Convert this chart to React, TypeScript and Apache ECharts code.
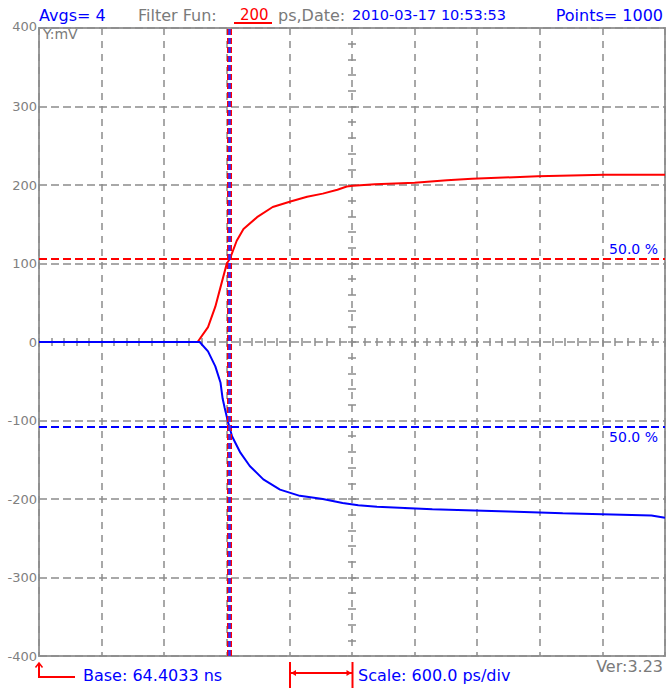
import { useEffect, useRef } from "react";
import * as echarts from "echarts";

// time in ps relative to screen centre (600 ps/div, 10 divisions)
const timeRed = [-3000, -1480, -1380, -1310, -1250, -1200, -1170, -1105, -1040, -910, -760, -590, -430, -280, -140, -50, 10, 220, 600, 910, 1150, 1780, 2420, 3000];
const mvRed = [0, 0, 19, 45, 75, 100, 106, 129, 144, 159, 172, 179, 185, 189, 194, 198, 199, 201, 203, 206, 208, 211, 213, 213];
const timeBlue = [-3000, -1460, -1380, -1310, -1260, -1240, -1220, -1190, -1150, -1070, -980, -850, -690, -500, -280, -90, 60, 240, 770, 1500, 2020, 2870, 3000];
const mvBlue = [0, 0, -12, -31, -52, -72, -84, -101, -120, -141, -158, -175, -188, -196, -200, -205, -208, -210, -213, -216, -218, -221, -224];

const markerTime = -1180;
const redHalfLevel = 106;
const blueHalfLevel = -108;
const halfLabel = "50.0 %";

const X_MIN = -3000;
const X_MAX = 3000;
const X_DIV = 600;
const Y_MIN = -400;
const Y_MAX = 400;
const Y_DIV = 100;

const headAvgs = "Avgs= 4";
const headFilter = "Filter Fun:";
const headFilterVal = "200";
const headDateLbl = "ps,Date:";
const headDate = "2010-03-17 10:53:53";
const headPoints = "Points= 1000";
const footBase = "Base: 64.4033 ns";
const footScale = "Scale: 600.0 ps/div";
const footVer = "Ver:3.23";
const yUnit = "Y:mV";

const GRAY = "#8c8c8c";
const BLUE = "#0000ff";
const RED = "#ff0000";
const FONT = '"DejaVu Sans", sans-serif';

export default function App() {
  const ref = useRef<HTMLDivElement>(null);

  useEffect(() => {
    if (!ref.current) return;
    const chart = echarts.init(ref.current, null, { renderer: "svg" });

    const tickXAxis = (inside: boolean) => ({
      type: "value",
      min: X_MIN,
      max: X_MAX,
      interval: X_DIV,
      position: "bottom",
      axisLine: { show: true, onZero: true, onZeroAxisIndex: 0, lineStyle: { opacity: 0 } },
      axisTick: { show: true, inside, length: 4, lineStyle: { color: GRAY, width: 1.5, opacity: 1 } },
      minorTick: { show: true, splitNumber: 5, length: 4, lineStyle: { color: GRAY, width: 1.5, opacity: 1 } },
      axisLabel: { show: false },
      splitLine: { show: false },
    });
    const tickYAxis = (inside: boolean) => ({
      type: "value",
      min: Y_MIN,
      max: Y_MAX,
      interval: Y_DIV,
      position: "left",
      axisLine: { show: true, onZero: true, onZeroAxisIndex: 0, lineStyle: { opacity: 0 } },
      axisTick: { show: true, inside, length: 4, lineStyle: { color: GRAY, width: 1.5, opacity: 1 } },
      minorTick: { show: true, splitNumber: 5, length: 4, lineStyle: { color: GRAY, width: 1.5, opacity: 1 } },
      axisLabel: { show: false },
      splitLine: { show: false },
    });

    const txt = (text: string, x: number, y: number, fill: string, size: number, align = "left") => ({
      type: "text",
      x,
      y,
      silent: true,
      style: {
        text,
        fill,
        font: `${size}px ${FONT}`,
        align,
        verticalAlign: "middle",
        textAlign: align,
        textVerticalAlign: "middle",
      },
    });

    const option: any = {
      animation: false,
      backgroundColor: "#ffffff",
      grid: {
        left: 39,
        right: 1,
        top: 28,
        bottom: 32,
        show: true,
        borderColor: "#9a9a9a",
        borderWidth: 2,
        backgroundColor: "#ffffff",
      },
      xAxis: [
        {
          type: "value",
          min: X_MIN,
          max: X_MAX,
          interval: X_DIV,
          position: "bottom",
          axisLine: { show: false, onZero: false },
          axisTick: { show: false },
          axisLabel: { show: false },
          splitLine: { show: true, lineStyle: { color: GRAY, width: 1.5, type: [7, 6] } },
        },
        tickXAxis(false),
        tickXAxis(true),
      ],
      yAxis: [
        {
          type: "value",
          min: Y_MIN,
          max: Y_MAX,
          interval: Y_DIV,
          position: "left",
          axisLine: { show: false, onZero: false },
          axisTick: { show: false },
          axisLabel: {
            show: true,
            color: "#808080",
            fontFamily: FONT,
            fontSize: 13,
            margin: 2,
            formatter: (v: number) => (v === Y_MAX ? `{t|${v}}` : `${v}`),
            rich: { t: { color: "#808080", fontFamily: FONT, fontSize: 13, padding: [0, 0, 4, 0] } },
          },
          splitLine: { show: true, lineStyle: { color: GRAY, width: 1.5, type: [8, 4] } },
        },
        tickYAxis(false),
        tickYAxis(true),
      ],
      series: [
        {
          type: "line",
          name: "red",
          xAxisIndex: 0,
          yAxisIndex: 0,
          data: timeRed.map((t, i) => [t, mvRed[i]]),
          showSymbol: false,
          symbol: "none",
          lineStyle: { color: RED, width: 2 },
          z: 3,
          markLine: {
            silent: true,
            symbol: ["none", "none"],
            data: [
              { xAxis: markerTime, lineStyle: { color: RED, width: 5, type: [6, 3] }, label: { show: false } },
              {
                yAxis: redHalfLevel,
                lineStyle: { color: RED, width: 2, type: [8, 4] },
                label: {
                  show: true,
                  position: "insideEndTop",
                  formatter: halfLabel,
                  color: BLUE,
                  fontFamily: FONT,
                  fontSize: 14,
                  distance: [7, 3],
                },
              },
            ],
          },
        },
        {
          type: "line",
          name: "blue",
          xAxisIndex: 0,
          yAxisIndex: 0,
          data: timeBlue.map((t, i) => [t, mvBlue[i]]),
          showSymbol: false,
          symbol: "none",
          lineStyle: { color: BLUE, width: 2 },
          z: 4,
          markLine: {
            silent: true,
            symbol: ["none", "none"],
            data: [
              { xAxis: markerTime, lineStyle: { color: "#3030ff", width: 2.5, type: [6, 3] }, label: { show: false } },
              {
                yAxis: blueHalfLevel,
                lineStyle: { color: BLUE, width: 2, type: [8, 4] },
                label: {
                  show: true,
                  position: "insideEndBottom",
                  formatter: halfLabel,
                  color: BLUE,
                  fontFamily: FONT,
                  fontSize: 14,
                  distance: [7, 3],
                },
              },
            ],
          },
        },
      ],
      graphic: [
        txt(headAvgs, 39, 15, BLUE, 16),
        txt(headFilter, 138, 15, "#7a7a7a", 16),
        txt(headFilterVal, 240, 15, RED, 15),
        { type: "line", silent: true, shape: { x1: 234, y1: 23, x2: 272, y2: 23 }, style: { stroke: RED, lineWidth: 2 } },
        txt(headDateLbl, 278, 15, "#7a7a7a", 16),
        txt(headDate, 352, 15, BLUE, 14.5),
        txt(headPoints, 663, 15, BLUE, 16, "right"),
        txt(yUnit, 43, 34, "#7a7a7a", 14),
        // base arrow
        { type: "polyline", silent: true, shape: { points: [[39, 663], [39, 677], [75, 677]] }, style: { stroke: RED, lineWidth: 2, fill: "none" } },
        { type: "polyline", silent: true, shape: { points: [[35.5, 667.5], [39, 663], [42.5, 667.5]] }, style: { stroke: RED, lineWidth: 1.5, fill: "none" } },
        txt(footBase, 83, 675, BLUE, 16),
        // scale bracket
        { type: "line", silent: true, shape: { x1: 290, y1: 662, x2: 290, y2: 688 }, style: { stroke: RED, lineWidth: 2 } },
        { type: "line", silent: true, shape: { x1: 352.5, y1: 662, x2: 352.5, y2: 688 }, style: { stroke: RED, lineWidth: 2 } },
        { type: "line", silent: true, shape: { x1: 290, y1: 673, x2: 352.5, y2: 673 }, style: { stroke: RED, lineWidth: 2 } },
        { type: "polygon", silent: true, shape: { points: [[291, 673], [296, 670], [296, 676]] }, style: { fill: RED } },
        { type: "polygon", silent: true, shape: { points: [[351.5, 673], [346.5, 670], [346.5, 676]] }, style: { fill: RED } },
        txt(footScale, 358, 675, BLUE, 16),
        txt(footVer, 663, 666, "#7a7a7a", 16, "right"),
      ],
    };

    chart.setOption(option);
    return () => chart.dispose();
  }, []);

  return (
    <div
      ref={ref}
      style={{ position: "fixed", left: 0, top: 0, width: 666, height: 688, background: "#ffffff" }}
    />
  );
}
